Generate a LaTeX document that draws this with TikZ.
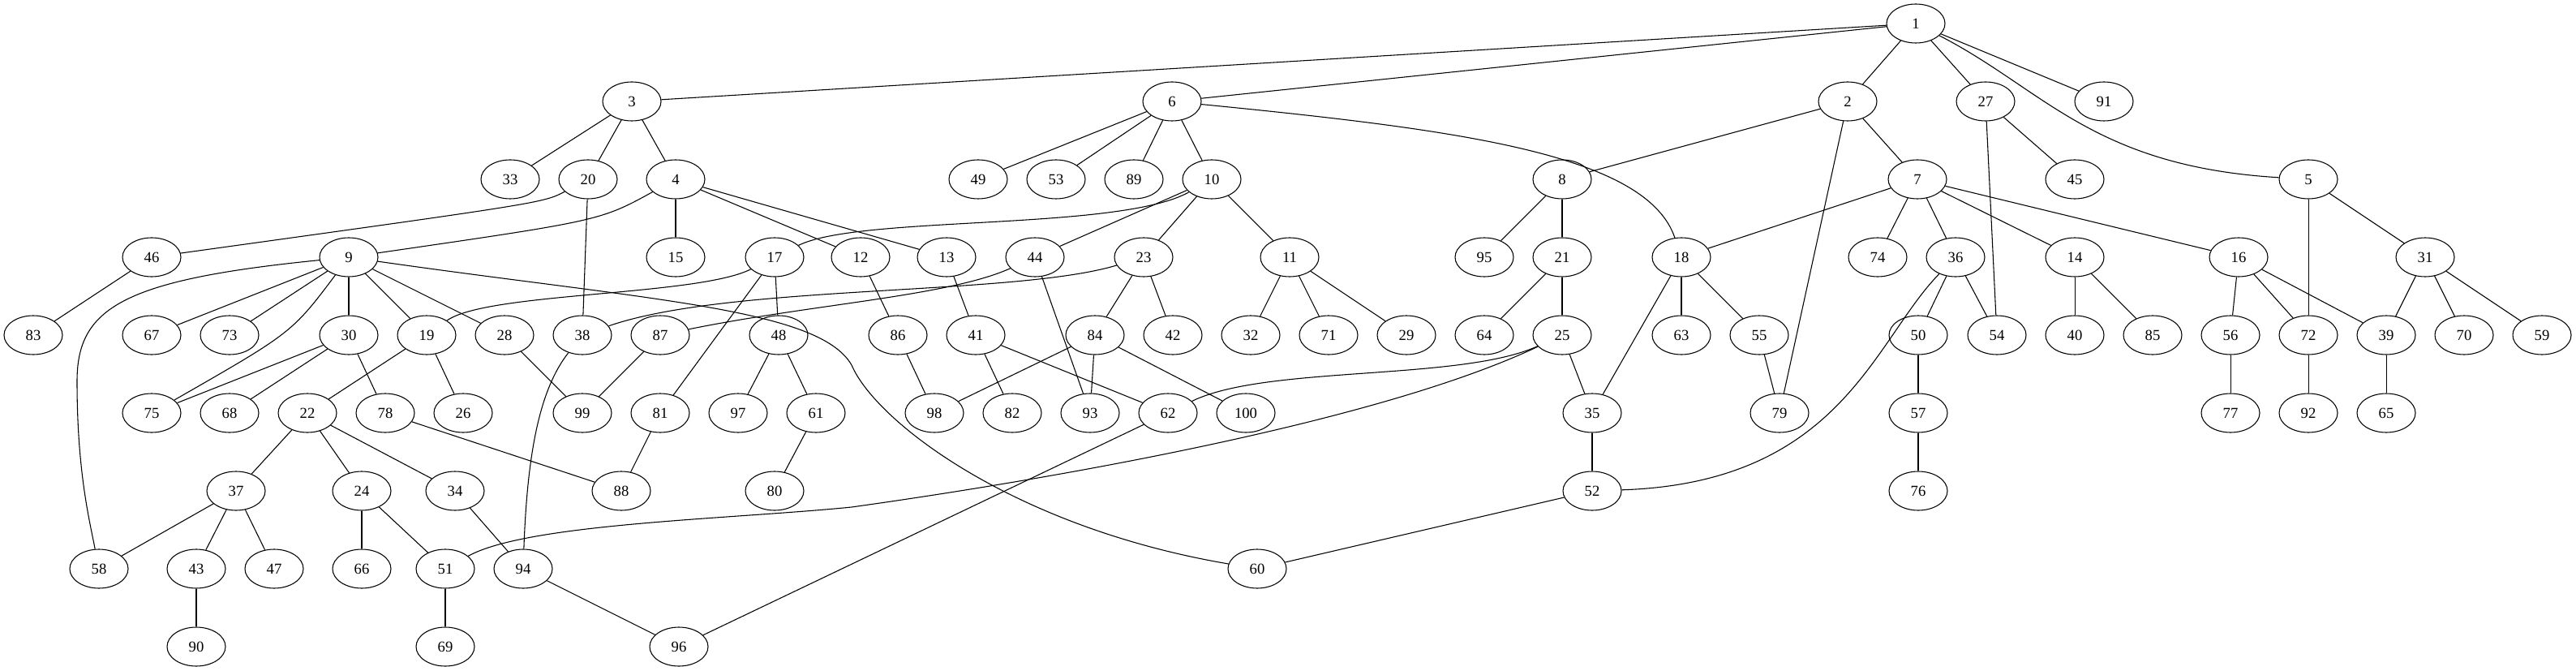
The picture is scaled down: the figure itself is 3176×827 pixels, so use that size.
\documentclass[tikz,border=0pt]{standalone}
\usepackage{fontspec}
\setmainfont{Liberation Serif}
\usetikzlibrary{shapes.geometric}
\tikzset{
  gn/.style={ellipse, draw, line width=0.8pt, minimum width=54pt, minimum height=36pt, inner sep=0pt, font=\fontsize{14}{16}\selectfont},
  ed/.style={line width=0.8pt}
}
\begin{document}
\begin{tikzpicture}[x=0.75pt,y=-0.75pt]
\useasboundingbox (0,0) rectangle (3176,827);
% row 0
\node[gn] (n1) at (2362,29) {1};
% row 1
\node[gn] (n3) at (779,125) {3};
\node[gn] (n6) at (1445,125) {6};
\node[gn] (n2) at (2278,125) {2};
\node[gn] (n27) at (2448,125) {27};
\node[gn] (n91) at (2594,125) {91};
% row 2
\node[gn] (n33) at (629,221) {33};
\node[gn] (n20) at (725,221) {20};
\node[gn] (n4) at (833,221) {4};
\node[gn] (n49) at (1206,221) {49};
\node[gn] (n53) at (1302,221) {53};
\node[gn] (n89) at (1398,221) {89};
\node[gn] (n10) at (1494,221) {10};
\node[gn] (n8) at (1926,221) {8};
\node[gn] (n7) at (2364,221) {7};
\node[gn] (n45) at (2558,221) {45};
\node[gn] (n5) at (2846,221) {5};
% row 3
\node[gn] (n46) at (187,317) {46};
\node[gn] (n9) at (430,317) {9};
\node[gn] (n15) at (833,317) {15};
\node[gn] (n17) at (955,317) {17};
\node[gn] (n12) at (1061,317) {12};
\node[gn] (n13) at (1167,317) {13};
\node[gn] (n44) at (1276,317) {44};
\node[gn] (n23) at (1410,317) {23};
\node[gn] (n11) at (1590,317) {11};
\node[gn] (n95) at (1830,317) {95};
\node[gn] (n21) at (1926,317) {21};
\node[gn] (n18) at (2073,317) {18};
\node[gn] (n74) at (2315,317) {74};
\node[gn] (n36) at (2411,317) {36};
\node[gn] (n14) at (2558,317) {14};
\node[gn] (n16) at (2760,317) {16};
\node[gn] (n31) at (2990,317) {31};
% row 4
\node[gn] (n83) at (41,413) {83};
\node[gn] (n67) at (187,413) {67};
\node[gn] (n73) at (283,413) {73};
\node[gn] (n30) at (430,413) {30};
\node[gn] (n19) at (526,413) {19};
\node[gn] (n28) at (622,413) {28};
\node[gn] (n38) at (718,413) {38};
\node[gn] (n87) at (814,413) {87};
\node[gn] (n48) at (960,413) {48};
\node[gn] (n86) at (1107,413) {86};
\node[gn] (n41) at (1203,413) {41};
\node[gn] (n84) at (1350,413) {84};
\node[gn] (n42) at (1446,413) {42};
\node[gn] (n32) at (1542,413) {32};
\node[gn] (n71) at (1638,413) {71};
\node[gn] (n29) at (1734,413) {29};
\node[gn] (n64) at (1830,413) {64};
\node[gn] (n25) at (1926,413) {25};
\node[gn] (n63) at (2073,413) {63};
\node[gn] (n55) at (2169,413) {55};
\node[gn] (n50) at (2365,413) {50};
\node[gn] (n54) at (2462,413) {54};
\node[gn] (n40) at (2558,413) {40};
\node[gn] (n85) at (2654,413) {85};
\node[gn] (n56) at (2750,413) {56};
\node[gn] (n72) at (2846,413) {72};
\node[gn] (n39) at (2942,413) {39};
\node[gn] (n70) at (3038,413) {70};
\node[gn] (n59) at (3134,413) {59};
% row 5
\node[gn] (n75) at (187,509) {75};
\node[gn] (n68) at (283,509) {68};
\node[gn] (n22) at (379,509) {22};
\node[gn] (n78) at (475,509) {78};
\node[gn] (n26) at (571,509) {26};
\node[gn] (n99) at (718,509) {99};
\node[gn] (n81) at (814,509) {81};
\node[gn] (n97) at (910,509) {97};
\node[gn] (n61) at (1006,509) {61};
\node[gn] (n98) at (1152,509) {98};
\node[gn] (n82) at (1248,509) {82};
\node[gn] (n93) at (1344,509) {93};
\node[gn] (n62) at (1440,509) {62};
\node[gn] (n100) at (1536,509) {100};
\node[gn] (n35) at (1963,509) {35};
\node[gn] (n79) at (2194,509) {79};
\node[gn] (n57) at (2365,509) {57};
\node[gn] (n77) at (2750,509) {77};
\node[gn] (n92) at (2846,509) {92};
\node[gn] (n65) at (2942,509) {65};
% row 6
\node[gn] (n37) at (291,605) {37};
\node[gn] (n24) at (446,605) {24};
\node[gn] (n34) at (561,605) {34};
\node[gn] (n88) at (766,605) {88};
\node[gn] (n80) at (955,605) {80};
\node[gn] (n52) at (1963,605) {52};
\node[gn] (n76) at (2365,605) {76};
% row 7
\node[gn] (n58) at (122,701) {58};
\node[gn] (n43) at (242,701) {43};
\node[gn] (n47) at (338,701) {47};
\node[gn] (n66) at (446,701) {66};
\node[gn] (n51) at (549,701) {51};
\node[gn] (n94) at (645,701) {94};
\node[gn] (n60) at (1550,701) {60};
% row 8
\node[gn] (n90) at (242,797) {90};
\node[gn] (n69) at (549,797) {69};
\node[gn] (n96) at (837,797) {96};

% straight edges
\foreach \a/\b in {1/3,1/6,1/2,1/27,1/91,
  3/33,3/20,3/4,
  6/49,6/53,6/89,6/10,
  2/8,2/7,2/79,
  27/45,27/54,
  5/72,5/31,
  20/38,
  4/15,4/12,4/13,
  10/44,10/23,10/11,
  8/95,8/21,
  7/18,7/74,7/36,7/14,7/16,
  46/83,
  9/67,9/73,9/30,9/19,9/28,
  17/48,17/81,
  12/86,13/41,
  44/93,
  23/84,23/42,
  11/32,11/71,11/29,
  21/64,21/25,
  18/63,18/55,18/35,
  36/50,36/54,
  14/40,14/85,
  16/56,16/72,16/39,
  31/39,31/70,31/59,
  30/75,30/68,30/78,
  19/22,19/26,
  28/99,87/99,
  48/97,48/61,
  86/98,
  41/82,41/62,
  84/98,84/93,84/100,
  25/35,
  55/79,50/57,56/77,72/92,39/65,
  22/37,22/24,22/34,
  78/88,81/88,61/80,62/96,35/52,52/60,57/76,
  37/58,37/43,37/47,
  24/66,24/51,34/94,43/90,51/69,94/96}
  {\draw[ed] (n\a) -- (n\b);}

% curved edges
\draw[ed] (n1) .. controls (2520,110) and (2580,205) .. (n5);
\draw[ed] (n6) .. controls (1800,160) and (2030,190) .. (n18);
\draw[ed] (n20) .. controls (670,250) .. (n46);
\draw[ed] (n4) .. controls (740,272) .. (n9);
\draw[ed] (n9) .. controls (150,345) and (95,380) .. (95,470) .. controls (95,580) and (110,640) .. (n58);
\draw[ed] (n9) .. controls (360,410) .. (n75);
\draw[ed] (n9) .. controls (800,370) and (1010,380) .. (1050,450) .. controls (1080,520) and (1250,650) .. (n60);
\draw[ed] (n10) .. controls (1380,285) and (1060,265) .. (n17);
\draw[ed] (n17) .. controls (860,365) and (600,360) .. (n19);
\draw[ed] (n23) .. controls (1250,365) and (900,350) .. (n38);
\draw[ed] (n44) .. controls (1170,365) and (1000,375) .. (n87);
\draw[ed] (n25) .. controls (1800,470) and (1560,450) .. (n62);
\draw[ed] (n25) .. controls (1700,520) and (1300,590) .. (1050,625) .. controls (900,640) and (650,645) .. (n51);
\draw[ed] (n36) .. controls (2310,420) and (2270,595) .. (n52);
\draw[ed] (n38) .. controls (665,480) and (650,560) .. (n94);
\end{tikzpicture}
\end{document}
